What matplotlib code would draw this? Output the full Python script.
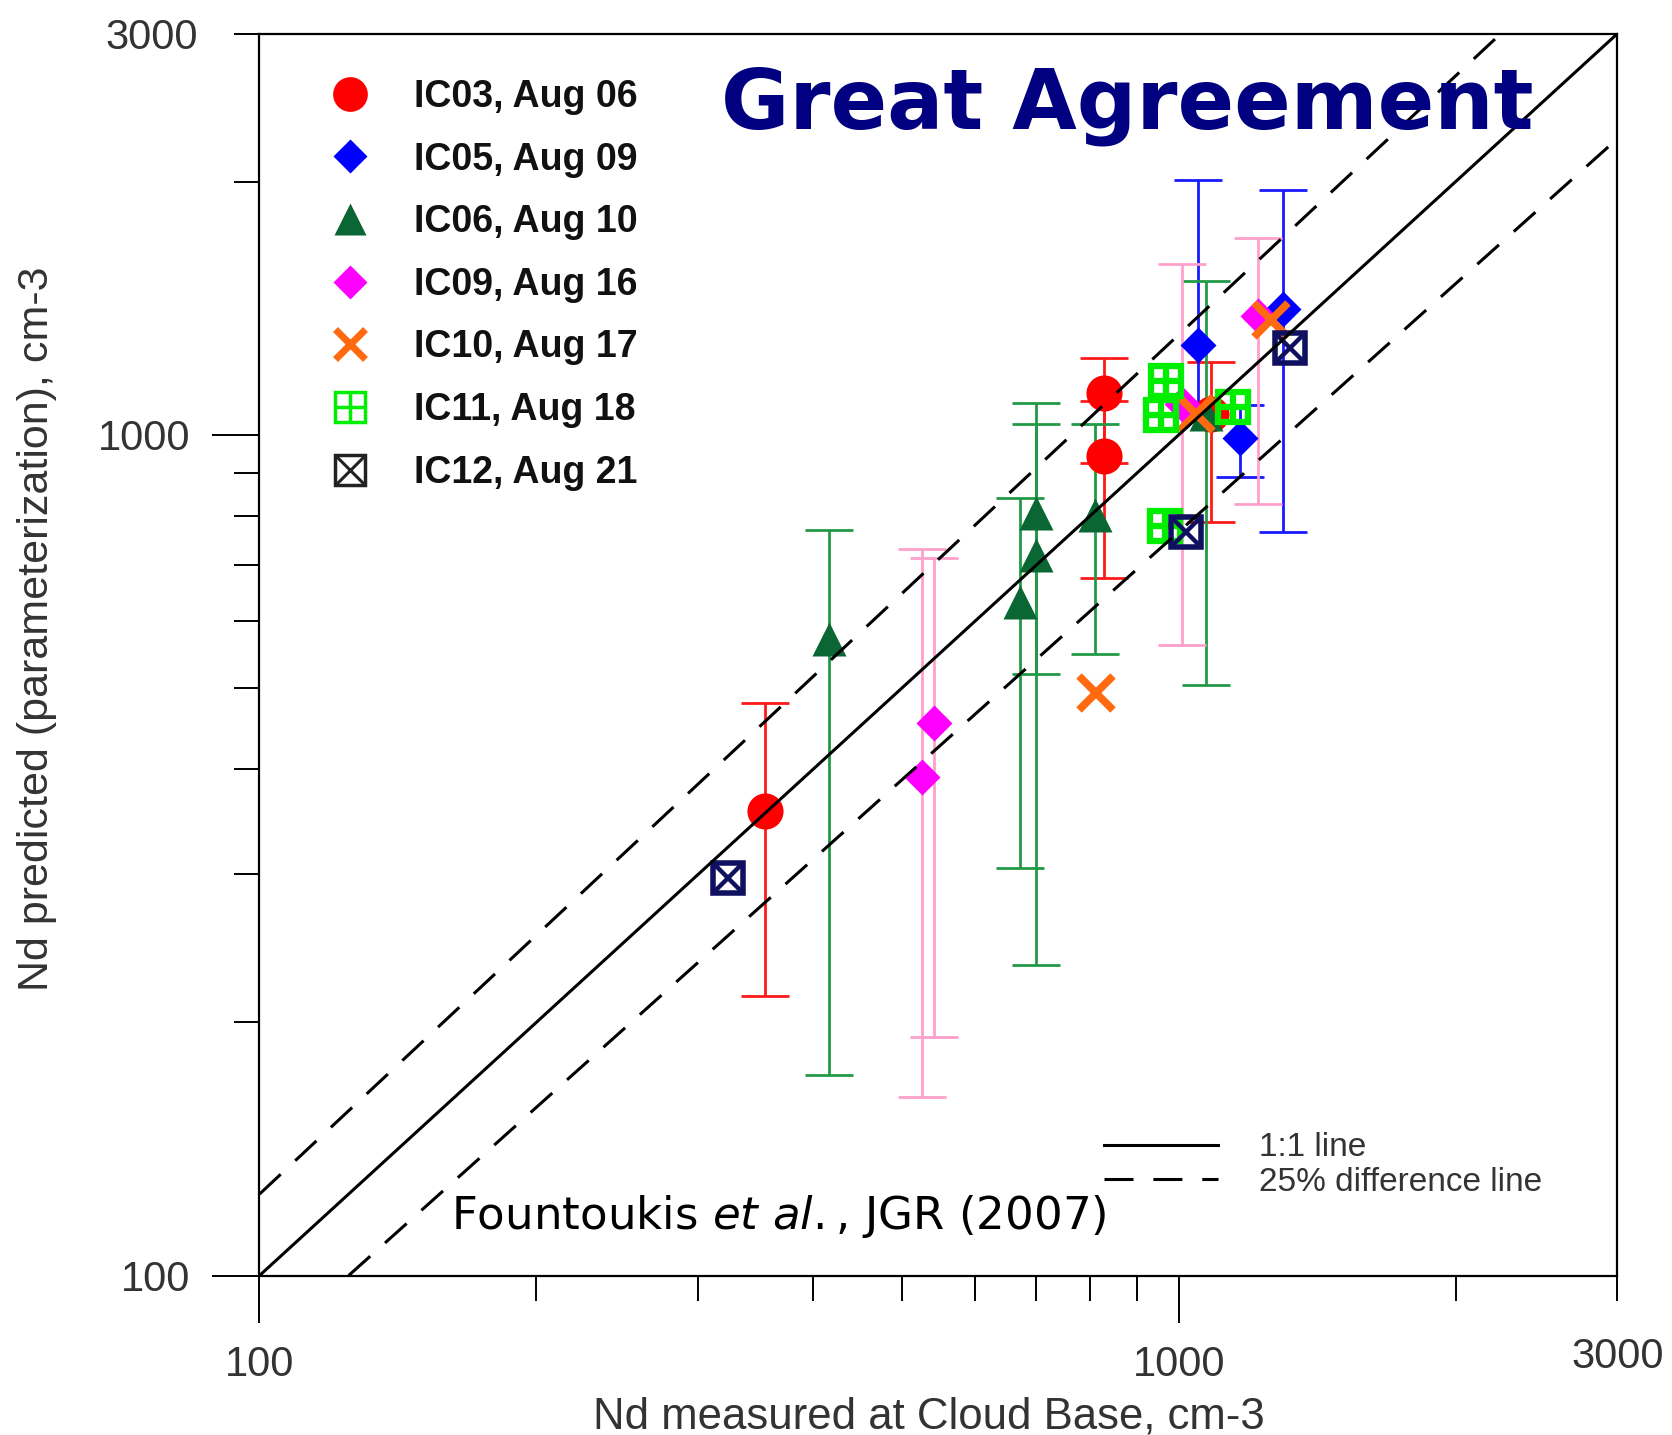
import numpy as np
import matplotlib.pyplot as plt
from matplotlib.lines import Line2D
from matplotlib.legend_handler import HandlerTuple

# cloud droplet number: measured at cloud base (x) vs parameterization (y), cm-3
# IC03, Aug 06
ic03_x = [355, 830, 830, 1085]
ic03_y = [357, 1122, 944, 1059]
ic03_lo = [215, 926, 676, 787]
ic03_hi = [480, 1235, 1098, 1220]

# IC05, Aug 09
ic05_x = [1049, 1165, 1298]
ic05_y = [1279, 992, 1412]
ic05_lo = [1085, 891, 766]
ic05_hi = [2009, 1085, 1957]

# IC06, Aug 10
ic06_x = [416, 671, 699, 699, 810, 1071]
ic06_y = [571, 632, 720, 808, 803, 1059]
ic06_lo = [173, 305, 234, 520, 548, 504]
ic06_hi = [770, 840, 1092, 1031, 1031, 1524]

# IC09, Aug 16
ic09_x = [525, 541, 1009, 1220]
ic09_y = [392, 454, 1087, 1383]
ic09_lo = [163, 192, 562, 828]
ic09_hi = [731, 713, 1596, 1714]

# IC10, Aug 17
ic10_x = [813, 1045, 1261]
ic10_y = [493, 1059, 1369]

# IC11, Aug 18
ic11_x = [969, 957, 1146, 965]
ic11_y = [1158, 1056, 1079, 778]

# IC12, Aug 21
ic12_x = [323, 1019, 1320]
ic12_y = [297, 766, 1268]

# reference lines
one_x = [100, 3000]
one_y = [100, 3000]
upper_x = [100, 2240]
upper_y = [125, 3000]
lower_x = [125, 3000]
lower_y = [100, 2250]

plt.rcParams["font.family"] = ["Liberation Sans", "DejaVu Sans"]

fig = plt.figure(figsize=(16.72, 14.35), dpi=100)
ax = fig.add_axes([0.1552, 0.1111, 0.8122, 0.8655])
ax.set_xscale("log")
ax.set_yscale("log")

ebar = dict(fmt="none", elinewidth=2, capsize=17.5, capthick=2, zorder=2)


def yerr(y, lo, hi):
    y = np.asarray(y)
    return [y - np.asarray(lo), np.asarray(hi) - y]


ax.errorbar(ic03_x, ic03_y, yerr=yerr(ic03_y, ic03_lo, ic03_hi), ecolor="#ff1a1a", **ebar)
ax.errorbar(ic05_x, ic05_y, yerr=yerr(ic05_y, ic05_lo, ic05_hi), ecolor="#1a1aff", **ebar)
ax.errorbar(ic06_x, ic06_y, yerr=yerr(ic06_y, ic06_lo, ic06_hi), ecolor="#229944", **ebar)
ax.errorbar(ic09_x, ic09_y, yerr=yerr(ic09_y, ic09_lo, ic09_hi), ecolor="#ffa0cc", **ebar)

ax.plot(ic03_x, ic03_y, ls="none", marker="o", ms=26, color="#ff0000", mec="none", zorder=3)
ax.plot(ic05_x, ic05_y, ls="none", marker="D", ms=18, color="#0000ff", mec="none", zorder=4)
ax.plot(ic06_x, ic06_y, ls="none", marker="^", ms=25, color="#0a6632", mec="none", zorder=5)
ax.plot(ic09_x, ic09_y, ls="none", marker="D", ms=18, color="#ff00ff", mec="none", zorder=6)
ax.plot(ic10_x, ic10_y, ls="none", marker="x", ms=24, mew=5.5, color="#ff6a10", zorder=7)
ax.plot(ic11_x, ic11_y, ls="none", marker="s", ms=22, mfc="none", mec="#00ee00", mew=4.5, zorder=8)
ax.plot(ic11_x, ic11_y, ls="none", marker="+", ms=22, mec="#00ee00", mew=4.5, zorder=8)
ax.plot(ic12_x, ic12_y, ls="none", marker="s", ms=22, mfc="none", mec="#101060", mew=4, zorder=9)
ax.plot(ic12_x, ic12_y, ls="none", marker="x", ms=20, mec="#101060", mew=3.2, zorder=9)

l_one = ax.plot(one_x, one_y, color="black", lw=2.2, zorder=10, label="1:1 line")[0]
l_pct = ax.plot(upper_x, upper_y, color="black", lw=2.2, dashes=(9.5, 6.5), zorder=10,
                label="25% difference line")[0]
ax.plot(lower_x, lower_y, color="black", lw=2.2, dashes=(9.5, 6.5), zorder=10)

ax.set_xlim(100, 3000)
ax.set_ylim(100, 3000)

minor = [200, 300, 400, 500, 600, 700, 800, 900, 2000, 3000]
minor_labels = [""] * 9 + ["3000"]
ax.set_xticks([100, 1000], labels=["100", "1000"])
ax.set_xticks(minor, labels=minor_labels, minor=True)
ax.set_yticks([100, 1000], labels=["100", "1000"])
ax.set_yticks(minor, labels=minor_labels, minor=True)
ax.tick_params(which="major", length=34, width=1.4, pad=16, labelsize=30, labelcolor="#333333")
ax.tick_params(which="minor", length=18, width=1.4, pad=26, labelsize=30, labelcolor="#333333")
for sp in ax.spines.values():
    sp.set_linewidth(1.6)

ax.set_xlabel("Nd measured at Cloud Base, cm-3", fontsize=31.5, color="#333333", va="center")
ax.xaxis.set_label_coords(0.493, -0.1135)
ax.set_ylabel("Nd predicted (parameterization), cm-3", fontsize=31, color="#333333", va="center")
ax.yaxis.set_label_coords(-0.1638, 0.5205)

# dataset legend
k = dict(ls="none")
handles = [
    Line2D([], [], marker="o", ms=25, color="#ff0000", mec="none", **k),
    Line2D([], [], marker="D", ms=17, color="#0000ff", mec="none", **k),
    Line2D([], [], marker="^", ms=23, color="#0a6632", mec="none", **k),
    Line2D([], [], marker="D", ms=17, color="#ff00ff", mec="none", **k),
    Line2D([], [], marker="x", ms=22, mew=5, color="#ff6a10", **k),
    (Line2D([], [], marker="s", ms=22, mfc="none", mec="#00ee00", mew=2.5, **k),
     Line2D([], [], marker="+", ms=22, mec="#00ee00", mew=2.5, **k)),
    (Line2D([], [], marker="s", ms=22, mfc="none", mec="#222222", mew=2.5, **k),
     Line2D([], [], marker="x", ms=20, mec="#222222", mew=2.2, **k)),
]
labels = ["IC03, Aug 06", "IC05, Aug 09", "IC06, Aug 10", "IC09, Aug 16",
          "IC10, Aug 17", "IC11, Aug 18", "IC12, Aug 21"]
leg1 = ax.legend(handles, labels, loc="upper left", bbox_to_anchor=(0.0527, 0.9635),
                 frameon=False, borderpad=0, borderaxespad=0, handlelength=1.0,
                 handletextpad=1.2, labelspacing=0.71,
                 prop={"size": 27, "weight": "bold"},
                 handler_map={tuple: HandlerTuple(ndivide=1)})
for t in leg1.get_texts():
    t.set_color("#111111")
ax.add_artist(leg1)

# line-style key
leg2 = ax.legend([l_one, l_pct], ["1:1 line", "25% difference line"], loc="upper left",
                 bbox_to_anchor=(0.622, 0.1153), frameon=False, borderpad=0,
                 borderaxespad=0, handlelength=3.4, handletextpad=1.25,
                 labelspacing=0.1, fontsize=24)
for t in leg2.get_texts():
    t.set_color("#333333")

ax.text(0.639, 0.9235, "Great Agreement", transform=ax.transAxes, ha="center", va="baseline",
        fontsize=60, fontweight="bold", color="#000080", family="DejaVu Sans", zorder=12)
ax.text(0.141, 0.0374, r"Fountoukis $\it{et\ al.}$, JGR (2007)", transform=ax.transAxes,
        ha="left", va="baseline", fontsize=32.5, color="black", family="DejaVu Sans", zorder=12)

fig.savefig("out.png", dpi=100)
